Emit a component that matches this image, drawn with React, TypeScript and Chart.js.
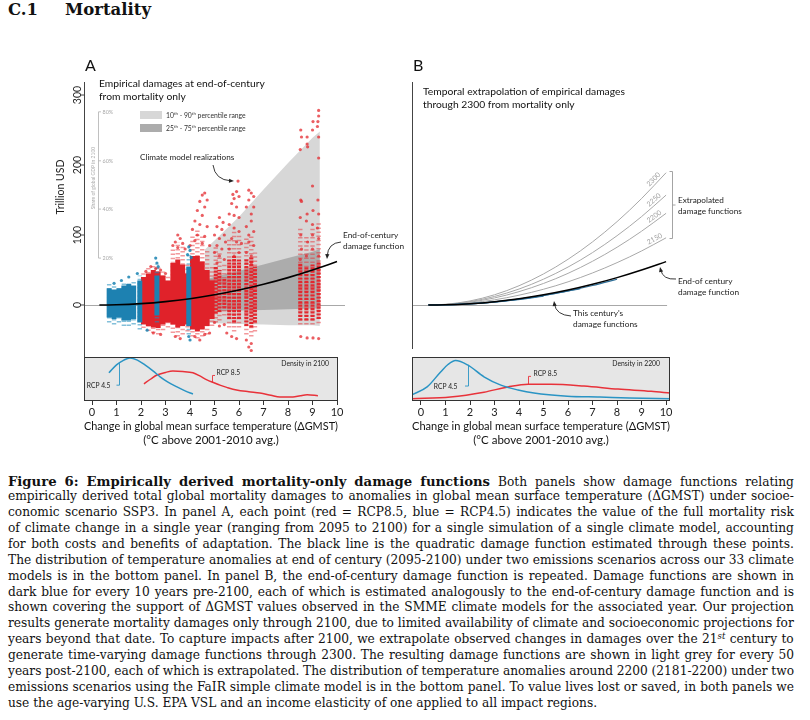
import React, { useEffect, useRef } from 'react';
import { Chart, registerables } from 'chart.js';

Chart.register(...registerables);

const SANS = 'Lato, "Noto Sans", "DejaVu Sans", sans-serif';
const SERIF = '"DejaVu Serif", "Liberation Serif", serif';

// ---------------- shared axis ----------------
const xTickStep = 1;
const xTitle = ['Change in global mean surface temperature (\u0394GMST)', '(\u00b0C above 2001-2010 avg.)'];
const yTickVals = [0, 100, 200, 300];
const shareTickLabels = ['20%', '40%', '60%', '80%'];
const shareTickVals = [67, 137, 206, 276];

// ---------------- Panel A: climate model realizations (columns: dense core + sparse halo) ----------------
const redColX = [2.1, 2.3, 2.5, 2.7, 2.9, 3.1, 3.3, 3.5, 3.7, 3.9, 4.1, 4.3, 4.5, 4.7, 4.9, 5.05, 5.2, 5.4, 5.6, 5.8, 6.0, 6.3, 6.5, 6.65, 8.5, 8.75, 9.0, 9.25];
const redCoreLo = [-28, -30, -32, -33, -28, -25, -28, -32, -30, -28, -35, -38, -35, -30, -20, -12, -10, -5, -20, -25, -20, -30, -32, -25, -22, -22, -22, -20];
const redCoreHi = [40, 45, 50, 48, 42, 35, 60, 65, 58, 45, 70, 70, 62, 50, 35, 55, 50, 38, 65, 70, 65, 65, 68, 55, 60, 55, 58, 62];
const redHaloLo = [-33, -37, -40, -42, -36, -32, -40, -45, -42, -38, -45, -48, -45, -42, -30, -25, -22, -15, -32, -38, -32, -42, -45, -38, -28, -28, -28, -26];
const redHaloHi = [46, 55, 58, 54, 48, 42, 80, 90, 85, 60, 100, 110, 100, 80, 55, 85, 75, 60, 95, 105, 100, 95, 100, 75, 110, 100, 110, 120];

const blueColX = [0.7, 0.9, 1.1, 1.3, 1.5, 1.7, 1.95, 2.65, 3.95];
const blueCoreLo = [-18, -20, -18, -22, -22, -20, -25, -15, -30];
const blueCoreHi = [24, 22, 24, 28, 30, 28, 35, 42, 55];
const blueHaloLo = [-25, -28, -25, -30, -30, -28, -35, -25, -42];
const blueHaloHi = [30, 28, 27, 33, 34, 33, 42, 58, 75];

const redPtX = [9.25, 9.25, 9.22, 9.2, 9.02, 9.0, 8.78, 8.78, 8.52, 8.55, 8.5, 8.8, 9.25, 9.25, 9.22, 9.25, 9.2, 9.25, 9.0, 9.02, 9.0, 9.0, 8.78, 8.75, 8.8, 8.52, 8.55, 8.5, 8.52, 8.55, 8.5, 9.0, 8.75, 9.25, 8.52, 8.78, 9.02, 9.25,
  6.4, 6.5, 6.4, 6.6, 6.6, 6.3, 6.5, 6.5, 6.3, 6.6, 6.4, 6.4, 6.6, 6.3, 6.5, 6.5, 6.3, 6.4, 6.5, 6.5,
  5.96, 5.9, 5.75, 5.8, 6.0, 5.7, 5.9, 5.6, 5.8, 6.0, 5.6, 5.8, 6.0, 5.7, 5.9, 6.1, 5.6, 6.0, 5.8, 5.7, 5.9, 5.5,
  5.2, 5.35, 5.1, 5.3, 5.4, 5.0, 5.2, 5.45, 5.1, 5.3, 5.0, 5.2, 5.4, 5.1, 5.0, 5.2, 5.4,
  4.6, 4.5, 4.7, 4.4, 4.6, 4.3, 4.5, 4.2, 4.4, 4.7, 4.1, 4.3, 4.6, 4.2, 4.5, 4.8, 4.0, 4.2, 4.4, 4.6, 4.8,
  3.5, 3.6, 3.4, 3.7, 3.3, 3.5, 3.8, 3.4, 3.6,
  2.4, 2.6, 2.2, 2.8, 3.0, 2.5, 2.8];
const redPtY = [278, 270, 262, 255, 262, 250, 240, 230, 250, 240, 222, 226, 240, 210, 150, 130, 110, 95, 170, 135, 115, 100, 130, 120, 90, 150, 148, 125, 100, 80, 65, 80, 70, 70, -45, -47, -47, -48,
  164, 160, 150, 155, 140, 140, 130, 120, 112, 105, 100, 90, 85, 75, 70, 60, -50, -60, -55, -65,
  177, 162, 158, 152, 155, 145, 140, 130, 128, 125, 115, 110, 105, 95, 90, 88, 80, 75, 70, -45, -48, -40,
  125, 118, 112, 108, 100, 100, 95, 90, 85, 80, 75, 70, 65, 60, -25, -30, -28,
  160, 157, 150, 148, 140, 135, 128, 120, 115, 112, 108, 100, 98, 92, 88, 85, 85, -45, -50, -42, -40,
  100, 95, 90, 88, 85, 82, 80, -45, -48,
  55, 52, 48, 50, 45, -40, -42];
const bluePtX = [2.6, 2.65, 2.7, 3.95, 4.0, 3.9, 4.05, 3.95, 4.0, 2.25, 1.5, 1.2, 0.9, 1.85];
const bluePtY = [67, 60, 55, 83, 78, 72, 68, -45, -50, -36, 40, 35, 31, 45];

// percentile ranges
const bandX = [4.6, 5, 6, 7, 8, 9, 9.3];
const band1090Hi = [79, 92, 126, 165, 203, 239, 248];
const band1090Lo = [-25, -26, -27, -28, -29, -29, -30];
const band2575Hi = [36, 40, 49, 58, 67, 76, 80];
const band2575Lo = [-9, -9, -8, -7, -6, -5, -5];

// damage functions (trillion USD)
const curveX = [0.3, 1, 2, 3, 4, 5, 6, 7, 8, 9, 10];
const endCenturyY = [0, 0.3, 1.9, 4.8, 9, 14.6, 21.4, 29.6, 39.1, 50, 62];
const ext2150Y = [0, 0.5, 2.9, 7.4, 14, 22.5, 33.1, 45.8, 60.5, 77.2, 96];
const ext2200Y = [0, 0.7, 4, 10.1, 19.1, 30.8, 45.2, 62.5, 82.5, 105.4, 131];
const ext2250Y = [0, 0.8, 4.8, 12.2, 22.8, 36.9, 54.2, 74.9, 99, 126.3, 157];
const ext2300Y = [0, 1, 5.8, 14.6, 27.5, 44.4, 65.3, 90.2, 119.1, 152.1, 189];
const c2090X = [0.3, 2, 3, 4, 5, 6, 7, 8];
const c2090Y = [0, 1.7, 4.5, 8.4, 13.8, 20.2, 27.9, 36.8];
const c2070X = [0.3, 1.5, 2.5, 3.5, 4.5, 5.5, 6.5];
const c2070Y = [0, 0.9, 3.0, 6.3, 10.8, 16.5, 23.4];
const c2050X = [0.3, 1.5, 2.5, 3.5, 4.5, 5];
const c2050Y = [0, 0.8, 2.8, 5.9, 10.1, 12.6];

// densities (relative)
const densA45X = [0.69, 1.0, 1.3, 1.55, 1.85, 2.16, 2.5, 2.78, 3.1, 3.47, 3.8, 4.12];
const densA45Y = [0.64, 0.82, 0.93, 0.98, 0.93, 0.82, 0.68, 0.55, 0.43, 0.32, 0.23, 0.16];
const densA85X = [2.12, 2.4, 2.65, 3.0, 3.3, 3.7, 4.12, 4.4, 4.69, 5.0, 5.22, 5.5, 5.9, 6.4, 6.85, 7.3, 7.67, 8.2, 8.5, 8.78, 9.22];
const densA85Y = [0.39, 0.5, 0.59, 0.65, 0.68, 0.67, 0.64, 0.57, 0.48, 0.41, 0.36, 0.31, 0.25, 0.21, 0.18, 0.13, 0.09, 0.09, 0.12, 0.14, 0.12];
const densB45X = [-0.37, 0.25, 0.8, 1.1, 1.41, 1.9, 2.57, 3.26, 3.96, 4.61, 5.97, 7.3, 8.5, 10.16];
const densB45Y = [0.14, 0.32, 0.66, 0.83, 0.92, 0.82, 0.55, 0.36, 0.25, 0.18, 0.11, 0.09, 0.07, 0.05];
const densB85X = [-0.37, 1.2, 2.57, 3.55, 4.37, 5.3, 6.65, 8.04, 9.39, 10.16];
const densB85Y = [0.05, 0.09, 0.2, 0.32, 0.38, 0.38, 0.34, 0.27, 0.22, 0.18];

// ---------------- caption ----------------
const CAPTION_HEAD = ['Figure', '6:', 'Empirically', 'derived', 'mortality-only', 'damage', 'functions'];
const CAPTION_LINES = [
  'Both panels show damage functions relating',
  'empirically derived total global mortality damages to anomalies in global mean surface temperature (\u0394GMST) under socioe-',
  'conomic scenario SSP3. In panel A, each point (red = RCP8.5, blue = RCP4.5) indicates the value of the full mortality risk',
  'of climate change in a single year (ranging from 2095 to 2100) for a single simulation of a single climate model, accounting',
  'for both costs and benefits of adaptation. The black line is the quadratic damage function estimated through these points.',
  'The distribution of temperature anomalies at end of century (2095-2100) under two emissions scenarios across our 33 climate',
  'models is in the bottom panel. In panel B, the end-of-century damage function is repeated. Damage functions are shown in',
  'dark blue for every 10 years pre-2100, each of which is estimated analogously to the end-of-century damage function and is',
  'shown covering the support of \u0394GMST values observed in the SMME climate models for the associated year. Our projection',
  'results generate mortality damages only through 2100, due to limited availability of climate and socioeconomic projections for',
  'years beyond that date. To capture impacts after 2100, we extrapolate observed changes in damages over the 21^st century to',
  'generate time-varying damage functions through 2300. The resulting damage functions are shown in light grey for every 50',
  'years post-2100, each of which is extrapolated. The distribution of temperature anomalies around 2200 (2181-2200) under two',
  'emissions scenarios using the FaIR simple climate model is in the bottom panel. To value lives lost or saved, in both panels we',
  'use the age-varying U.S. EPA VSL and an income elasticity of one applied to all impact regions.',
];

// ---------------- layout ----------------
const A_OFF = { x: 0, y: 40 };
const B_OFF = { x: 405, y: 40 };
const RED = '#e0222a';
const RED_STRIPE = '#e2282f';
const RED_HALO = 'rgba(232,50,55,0.5)';
const BLUE = '#1d81b1';
const BLUE_HALO = 'rgba(30,140,188,0.55)';
const DENS_BLUE = '#2a94c4';
const DENS_RED = '#e8323a';
const STRIPE_FROM = 4.95;

function pts(xs: number[], ys: number[]) {
  return xs.map((x, i) => ({ x, y: ys[i] }));
}
function cols(xs: number[], lo: number[], hi: number[], keep: (x: number) => boolean = () => true) {
  const out: any[] = [];
  xs.forEach((x, i) => { if (keep(x)) out.push({ x, y: lo[i] }, { x, y: hi[i] }, { x, y: null }); });
  return out;
}
function seg(ctx: any, x0: number, y0: number, x1: number, y1: number) {
  ctx.beginPath(); ctx.moveTo(x0, y0); ctx.lineTo(x1, y1); ctx.stroke();
}
function txt(ctx: any, s: string, x: number, y: number, size: number, o: any = {}) {
  ctx.save();
  ctx.font = `${o.weight || 'normal'} ${size}px ${SANS}`;
  ctx.fillStyle = o.color || '#222';
  ctx.textAlign = o.align || 'left';
  ctx.textBaseline = o.base || 'middle';
  if (o.rot) { ctx.translate(x, y); ctx.rotate(o.rot); ctx.fillText(s, 0, 0); }
  else ctx.fillText(s, x, y);
  ctx.restore();
}
function supText(ctx: any, parts: [string, number][], x: number, y: number, size: number, color: string) {
  ctx.save();
  ctx.fillStyle = color; ctx.textBaseline = 'middle'; ctx.textAlign = 'left';
  let cx = x;
  for (const [t, sup] of parts) {
    const s = sup ? size * 0.65 : size;
    ctx.font = `${s}px ${SANS}`;
    ctx.fillText(t, cx, sup ? y - size * 0.35 : y);
    cx += ctx.measureText(t).width;
  }
  ctx.restore();
}
function arrow(ctx: any, x0: number, y0: number, cx: number, cy: number, x1: number, y1: number) {
  ctx.save();
  ctx.strokeStyle = '#222'; ctx.fillStyle = '#222'; ctx.lineWidth = 0.9;
  const a = Math.atan2(y1 - cy, x1 - cx);
  const L = 5, W = 2.1;
  ctx.beginPath(); ctx.moveTo(x0, y0); ctx.quadraticCurveTo(cx, cy, x1 - 3 * Math.cos(a), y1 - 3 * Math.sin(a)); ctx.stroke();
  ctx.beginPath();
  ctx.moveTo(x1, y1);
  ctx.lineTo(x1 - L * Math.cos(a) + W * Math.sin(a), y1 - L * Math.sin(a) - W * Math.cos(a));
  ctx.lineTo(x1 - L * Math.cos(a) - W * Math.sin(a), y1 - L * Math.sin(a) + W * Math.cos(a));
  ctx.closePath(); ctx.fill();
  ctx.restore();
}

function xAxis(min: number, max: number) {
  return {
    type: 'linear', position: 'bottom', min, max,
    afterFit: (s: any) => { s.height = 46; },
    grid: { display: true, drawOnChartArea: false, drawTicks: true, tickLength: 4, color: '#333', lineWidth: 1 },
    border: { display: false },
    ticks: { stepSize: xTickStep, includeBounds: false, autoSkip: false, maxRotation: 0, padding: 1, color: '#222', font: { family: SANS, size: 11 } },
    title: { display: true, text: xTitle, color: '#111', padding: 0, font: { family: SANS, size: 11.5 } },
  };
}
const yMain = () => ({
  type: 'linear', position: 'left', stack: 'v', stackWeight: 275, weight: 2, min: -74.3, max: 318.6,
  grid: { display: false }, border: { display: false }, ticks: { display: false },
  afterFit: (s: any) => { s.width = 0; },
});
const yDens = () => ({
  type: 'linear', position: 'left', stack: 'v', stackWeight: 44, weight: 1, min: 0, max: 1,
  grid: { display: false }, border: { display: false }, ticks: { display: false },
  afterFit: (s: any) => { s.width = 0; },
});

const lineDs = (data: any[], color: string, width: number, order: number, extra: any = {}) => ({
  type: 'line', data, borderColor: color, borderWidth: width, pointRadius: 0, fill: false, order,
  xAxisID: 'x', yAxisID: 'y', ...extra,
});
const colSolid = (data: any[], color: string, order: number) =>
  lineDs(data, color, 5, order, { borderCapStyle: 'butt', spanGaps: false });
const colStripe = (data: any[], color: string, order: number) =>
  lineDs(data, color, 4, order, { borderCapStyle: 'butt', spanGaps: false, borderDash: [2.2, 1.2] });
const colHalo = (data: any[], color: string, order: number) =>
  lineDs(data, color, 4.4, order, { borderCapStyle: 'butt', spanGaps: false, borderDash: [1.5, 2.6] });
const densDs = (data: any[], color: string) =>
  lineDs(data, color, 1.5, 0, { yAxisID: 'yd', cubicInterpolationMode: 'monotone' });

function boxBefore(chart: any, zeroRight: (x: any, ca: any) => number) {
  const { ctx, chartArea: ca } = chart;
  const sy = chart.scales.y, sd = chart.scales.yd, sx = chart.scales.x;
  ctx.save();
  ctx.fillStyle = '#e6e6e6';
  ctx.fillRect(ca.left, sd.top, ca.right - ca.left, sd.bottom - sd.top);
  const y0 = Math.round(sy.getPixelForValue(0)) + 0.5;
  ctx.strokeStyle = '#a8a8a8'; ctx.lineWidth = 1;
  seg(ctx, ca.left, y0, zeroRight(sx, ca), y0);
  ctx.restore();
}
function boxBorder(chart: any) {
  const { ctx, chartArea: ca } = chart;
  const sd = chart.scales.yd;
  ctx.save();
  ctx.strokeStyle = '#333'; ctx.lineWidth = 1;
  ctx.strokeRect(Math.round(ca.left) + 0.5, Math.round(sd.top) + 0.5, Math.round(ca.right - ca.left) - 1, Math.round(sd.bottom - sd.top) - 1);
  ctx.restore();
}

const decorA = {
  id: 'decorA',
  beforeDatasetsDraw(chart: any) { boxBefore(chart, (sx: any, ca: any) => ca.right + 7); },
  afterDatasetsDraw(chart: any) {
    const { ctx, chartArea: ca } = chart;
    const sx = chart.scales.x, sy = chart.scales.y, sd = chart.scales.yd;
    const X = (v: number) => sx.getPixelForValue(v);
    const Y = (v: number) => sy.getPixelForValue(v);
    const D = (v: number) => sd.getPixelForValue(v);
    const fx = (p: number) => p - A_OFF.x, fy = (p: number) => p - A_OFF.y;
    ctx.save();
    ctx.strokeStyle = '#444'; ctx.lineWidth = 1;
    const ax = Math.round(ca.left) + 0.5;
    seg(ctx, ax, ca.top, ax, sd.top);
    for (const v of yTickVals) {
      const py = Y(v);
      seg(ctx, ax - 4, py, ax, py);
      txt(ctx, String(v), fx(77.5), py, 10.5, { align: 'center', rot: -Math.PI / 2 });
    }
    txt(ctx, 'Trillion USD', fx(61), fy(187), 10.5, { align: 'center', rot: -Math.PI / 2 });
    ctx.strokeStyle = '#b0b0b0'; ctx.lineWidth = 0.8;
    const sxl = fx(98.5);
    seg(ctx, sxl, Y(shareTickVals[shareTickVals.length - 1]), sxl, Y(shareTickVals[0]));
    shareTickVals.forEach((v, i) => {
      const py = Y(v);
      seg(ctx, sxl, py, sxl + 2.5, py);
      txt(ctx, shareTickLabels[i], sxl + 4, py, 5.4, { color: '#a8a8a8' });
    });
    txt(ctx, 'Share of global GDP in 2100', fx(93.5), fy(178), 5, { align: 'center', rot: -Math.PI / 2, color: '#aaa' });
    txt(ctx, 'A', fx(85), fy(71), 16, { base: 'alphabetic', color: '#111' });
    txt(ctx, 'Empirical damages at end-of-century', fx(99), fy(84), 10.3, { color: '#111' });
    txt(ctx, 'from mortality only', fx(99), fy(97), 10.3, { color: '#111' });
    ctx.fillStyle = '#d7d7d7'; ctx.fillRect(fx(140), fy(111), 22, 8);
    ctx.fillStyle = '#acacac'; ctx.fillRect(fx(140), fy(124), 22, 8);
    supText(ctx, [['10', 0], ['th', 1], [' - 90', 0], ['th', 1], [' percentile range', 0]], fx(166), fy(115.5), 6.8, '#333');
    supText(ctx, [['25', 0], ['th', 1], [' - 75', 0], ['th', 1], [' percentile range', 0]], fx(166), fy(128.5), 6.8, '#333');
    txt(ctx, 'Climate model realizations', fx(140), fy(157), 8.2);
    arrow(ctx, fx(213), fy(165), fx(215), fy(180), fx(234), fy(181));
    txt(ctx, 'End-of-century', fx(343), fy(235), 8.3);
    txt(ctx, 'damage function', fx(343), fy(246), 8.3);
    arrow(ctx, fx(341), fy(242), fx(328), fy(243), fx(327), fy(259));
    boxBorder(chart);
    txt(ctx, 'Density in 2100', fx(329), fy(364), 6.8, { align: 'right' });
    ctx.lineWidth = 0.9;
    ctx.strokeStyle = DENS_BLUE;
    const lx = Math.round(X(1.1)) + 0.5;
    seg(ctx, lx, D(0.86), lx, D(0.36)); seg(ctx, lx - 3, D(0.36), lx, D(0.36));
    txt(ctx, 'RCP 4.5', lx - 9, D(0.34), 6.7, { align: 'right' });
    ctx.strokeStyle = DENS_RED;
    const rx = Math.round(X(4.9)) + 0.5;
    seg(ctx, rx, D(0.43), rx, D(0.58)); seg(ctx, rx, D(0.58), rx + 2.5, D(0.58));
    txt(ctx, 'RCP 8.5', rx + 4, D(0.63), 6.7);
    ctx.restore();
  },
};

const decorB = {
  id: 'decorB',
  beforeDatasetsDraw(chart: any) { boxBefore(chart, (sx: any) => sx.getPixelForValue(10) + 1); },
  afterDatasetsDraw(chart: any) {
    const { ctx, chartArea: ca } = chart;
    const sx = chart.scales.x, sy = chart.scales.y, sd = chart.scales.yd;
    const X = (v: number) => sx.getPixelForValue(v);
    const Y = (v: number) => sy.getPixelForValue(v);
    const D = (v: number) => sd.getPixelForValue(v);
    const fx = (p: number) => p - B_OFF.x, fy = (p: number) => p - B_OFF.y;
    ctx.save();
    ctx.strokeStyle = '#444'; ctx.lineWidth = 1;
    const ax = Math.round(ca.left) + 0.5;
    seg(ctx, ax, ca.top, ax, fy(349));
    txt(ctx, 'B', fx(413), fy(71), 16, { base: 'alphabetic', color: '#111' });
    txt(ctx, 'Temporal extrapolation of empirical damages', fx(423), fy(92), 10.3, { color: '#111' });
    txt(ctx, 'through 2300 from mortality only', fx(423), fy(104.5), 10.3, { color: '#111' });
    const years: [string, number[]][] = [['2150', ext2150Y], ['2200', ext2200Y], ['2250', ext2250Y], ['2300', ext2300Y]];
    for (const [lab, ys] of years) {
      const n = ys.length;
      const xa = 9.62;
      const v = ys[n - 2] + (ys[n - 1] - ys[n - 2]) * (xa - curveX[n - 2]) / (curveX[n - 1] - curveX[n - 2]);
      const ang = Math.atan2(Y(ys[n - 1]) - Y(ys[n - 2]), X(curveX[n - 1]) - X(curveX[n - 2]));
      const px = X(xa) + Math.sin(ang) * 4.5, py = Y(v) - Math.cos(ang) * 4.5;
      txt(ctx, lab, px, py, 7, { align: 'center', rot: ang, color: '#a0a0a0' });
    }
    ctx.strokeStyle = '#9a9a9a'; ctx.lineWidth = 0.9;
    const bx = fx(672.5);
    seg(ctx, bx, fy(171.5), bx, fy(238.5));
    seg(ctx, bx - 3, fy(171.5), bx, fy(171.5));
    seg(ctx, bx - 3, fy(238.5), bx, fy(238.5));
    seg(ctx, bx, fy(205), bx + 3, fy(205));
    txt(ctx, 'Extrapolated', fx(678), fy(200), 8.2);
    txt(ctx, 'damage functions', fx(678), fy(211), 8.2);
    txt(ctx, 'End-of century', fx(678), fy(281), 8.3);
    txt(ctx, 'damage function', fx(678), fy(292), 8.3);
    arrow(ctx, fx(676), fy(279), fx(663), fy(280), fx(660), fy(267));
    txt(ctx, "This century's", fx(573), fy(313), 8.3);
    txt(ctx, 'damage functions', fx(573), fy(324), 8.3);
    arrow(ctx, fx(571), fy(316), fx(556), fy(315), fx(554), fy(301));
    boxBorder(chart);
    txt(ctx, 'Density in 2200', fx(660), fy(364), 6.8, { align: 'right' });
    ctx.lineWidth = 0.9;
    ctx.strokeStyle = DENS_BLUE;
    const lx = Math.round(X(1.92)) + 0.5;
    seg(ctx, lx, D(0.82), lx, D(0.34)); seg(ctx, lx - 3.5, D(0.34), lx, D(0.34));
    txt(ctx, 'RCP 4.5', lx - 11, D(0.32), 6.7, { align: 'right' });
    ctx.strokeStyle = DENS_RED;
    const rx = Math.round(X(4.37)) + 0.5;
    seg(ctx, rx, D(0.38), rx, D(0.56)); seg(ctx, rx, D(0.56), rx + 2.5, D(0.56));
    txt(ctx, 'RCP 8.5', rx + 5, D(0.61), 6.7);
    ctx.restore();
  },
};

function baseOptions(padL: number, padR: number, xmin: number, xmax: number) {
  return {
    responsive: false, animation: false, events: [],
    layout: { padding: { left: padL, right: padR, top: 42, bottom: 3 } },
    plugins: { legend: { display: false }, tooltip: { enabled: false } },
    scales: { x: xAxis(xmin, xmax), y: yMain(), yd: yDens() },
  };
}

function configA(): any {
  const dense = (x: number) => x < STRIPE_FROM;
  const stripe = (x: number) => x >= STRIPE_FROM;
  return {
    type: 'scatter',
    data: {
      datasets: [
        lineDs(pts(bandX, band1090Hi), 'rgba(0,0,0,0)', 0, 10, { fill: '+1', backgroundColor: '#d7d7d7' }),
        lineDs(pts(bandX, band1090Lo), 'rgba(0,0,0,0)', 0, 10),
        lineDs(pts(bandX, band2575Hi), 'rgba(0,0,0,0)', 0, 9, { fill: '+1', backgroundColor: '#acacac' }),
        lineDs(pts(bandX, band2575Lo), 'rgba(0,0,0,0)', 0, 9),
        colHalo(cols(redColX, redHaloLo, redHaloHi), RED_HALO, 8),
        colSolid(cols(redColX, redCoreLo, redCoreHi, dense), RED, 7),
        colStripe(cols(redColX, redCoreLo, redCoreHi, stripe), RED_STRIPE, 7),
        colHalo(cols(blueColX, blueHaloLo, blueHaloHi), BLUE_HALO, 6),
        colSolid(cols(blueColX, blueCoreLo, blueCoreHi), BLUE, 5),
        { type: 'scatter', data: pts(redPtX, redPtY), pointRadius: 1.6, backgroundColor: 'rgba(228,40,45,0.75)', borderWidth: 0, order: 4, xAxisID: 'x', yAxisID: 'y' },
        { type: 'scatter', data: pts(bluePtX, bluePtY), pointRadius: 1.6, backgroundColor: 'rgba(25,130,178,0.85)', borderWidth: 0, order: 3, xAxisID: 'x', yAxisID: 'y' },
        lineDs(pts(curveX, endCenturyY), '#000', 1.6, 1, { cubicInterpolationMode: 'monotone' }),
        densDs(pts(densA45X, densA45Y), DENS_BLUE),
        densDs(pts(densA85X, densA85Y), DENS_RED),
      ],
    },
    options: baseOptions(84, 67, -0.327, 10.04),
    plugins: [decorA],
  };
}

function configB(): any {
  const mono = { cubicInterpolationMode: 'monotone' };
  return {
    type: 'scatter',
    data: {
      datasets: [
        lineDs(pts(curveX, ext2300Y), '#a8a8a8', 1, 5, mono),
        lineDs(pts(curveX, ext2250Y), '#a8a8a8', 1, 5, mono),
        lineDs(pts(curveX, ext2200Y), '#a8a8a8', 1, 5, mono),
        lineDs(pts(curveX, ext2150Y), '#a8a8a8', 1, 5, mono),
        lineDs(pts(c2050X, c2050Y), '#2f6f98', 1.2, 3, mono),
        lineDs(pts(c2070X, c2070Y), '#2f6f98', 1.2, 3, mono),
        lineDs(pts(c2090X, c2090Y), '#2f6f98', 1.2, 3, mono),
        lineDs(pts(curveX, endCenturyY), '#000', 1.5, 1, mono),
        densDs(pts(densB45X, densB45Y), DENS_BLUE),
        densDs(pts(densB85X, densB85Y), DENS_RED),
      ],
    },
    options: baseOptions(7, 140, -0.367, 10.16),
    plugins: [decorB],
  };
}

const LH = 15.86;

function Word({ w, style }: { w: string; style?: any }) {
  const i = w.indexOf('^');
  if (i < 0) return <span style={style}>{w}</span>;
  return (
    <span style={style}>
      {w.slice(0, i)}
      <span style={{ fontSize: '8.5px', fontStyle: 'italic', position: 'relative', top: '-4.5px' }}>{w.slice(i + 1)}</span>
    </span>
  );
}

function Caption() {
  const lineStyle: any = { display: 'flex', justifyContent: 'space-between', alignItems: 'baseline', height: LH, lineHeight: LH + 'px', whiteSpace: 'nowrap' };
  const bold = { fontFamily: SERIF, fontWeight: 'bold', fontSize: '13.2px' };
  const last = CAPTION_LINES.length - 1;
  return (
    <div style={{ position: 'absolute', left: 8, top: 473.5, width: 786, fontFamily: SERIF, fontSize: '12.2px', color: '#111' }}>
      <div style={lineStyle}>
        {CAPTION_HEAD.map((w, i) => <Word key={'h' + i} w={w} style={bold} />)}
        {CAPTION_LINES[0].split(' ').map((w, i) => <Word key={'a' + i} w={w} />)}
      </div>
      {CAPTION_LINES.slice(1, last).map((ln, k) => (
        <div key={k} style={lineStyle}>
          {ln.split(' ').map((w, i) => <Word key={i} w={w} />)}
        </div>
      ))}
      <div style={{ height: LH, lineHeight: LH + 'px', whiteSpace: 'nowrap' }}>{CAPTION_LINES[last]}</div>
    </div>
  );
}

export default function App() {
  const refA = useRef<HTMLCanvasElement | null>(null);
  const refB = useRef<HTMLCanvasElement | null>(null);
  useEffect(() => {
    const a = new Chart(refA.current as any, configA());
    const b = new Chart(refB.current as any, configB());
    return () => { a.destroy(); b.destroy(); };
  }, []);
  return (
    <div style={{ position: 'absolute', left: 0, top: 0, width: 810, height: 720, background: '#fff', overflow: 'hidden' }}>
      <div style={{ position: 'absolute', left: 8, top: 2, fontFamily: SERIF, fontWeight: 'bold', fontSize: '16.5px', lineHeight: '16.5px', color: '#111', whiteSpace: 'nowrap' }}>
        <span style={{ display: 'inline-block', width: 57 }}>C.1</span>
        <span>Mortality</span>
      </div>
      <canvas ref={refA} width={405} height={410} style={{ position: 'absolute', left: A_OFF.x, top: A_OFF.y, width: 405, height: 410 }} />
      <canvas ref={refB} width={405} height={410} style={{ position: 'absolute', left: B_OFF.x, top: B_OFF.y, width: 405, height: 410 }} />
      <Caption />
    </div>
  );
}
